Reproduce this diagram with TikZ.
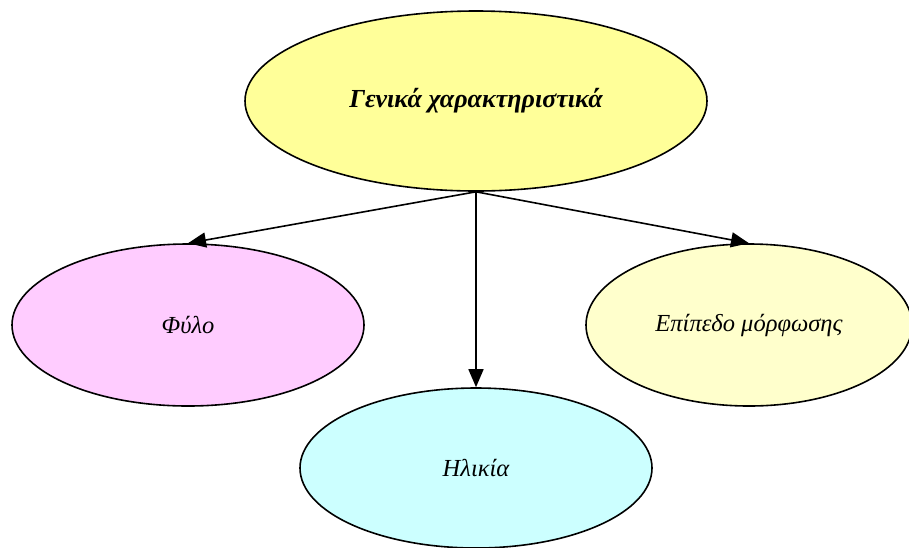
\documentclass[tikz,border=0pt]{standalone}
\usepackage{fontspec}
\setmainfont{Liberation Serif}
\usetikzlibrary{shapes.geometric, arrows.meta}

\definecolor{topyellow}{HTML}{FFFF99}
\definecolor{lightpink}{HTML}{FFCCFF}
\definecolor{lightcyan}{HTML}{CCFFFF}
\definecolor{paleyellow}{HTML}{FFFFCC}

\begin{document}
\begin{tikzpicture}[x=1pt, y=-1pt,
    bubble/.style={ellipse, draw, line width=1.6pt, inner sep=0pt, font=\itshape\fontsize{24.5}{28}\selectfont},
    link/.style={line width=1.6pt, -{Triangle[length=18pt, width=15pt]}}]

  % Frame of the picture
  \useasboundingbox (0,0) rectangle (909,547);

  % Main node
  \node[bubble, fill=topyellow, minimum width=462, minimum height=180,
    font=\bfseries\itshape\fontsize{26}{30}\selectfont] (general) at (476,101) {Γενικά χαρακτηριστικά};

  % Characteristics
  \node[bubble, fill=lightpink, minimum width=352, minimum height=162] (gender) at (188,325) {Φύλο};
  \node[bubble, fill=paleyellow, minimum width=326, minimum height=162] (education) at (749,325) {Επίπεδο μόρφωσης};
  \node[bubble, fill=lightcyan, minimum width=352, minimum height=160] (age) at (476,468) {Ηλικία};

  % Arrows
  \draw[link] (general.south) -- (gender.north);
  \draw[link] (general.south) -- (age.north);
  \draw[link] (general.south) -- (education.north);

\end{tikzpicture}
\end{document}
